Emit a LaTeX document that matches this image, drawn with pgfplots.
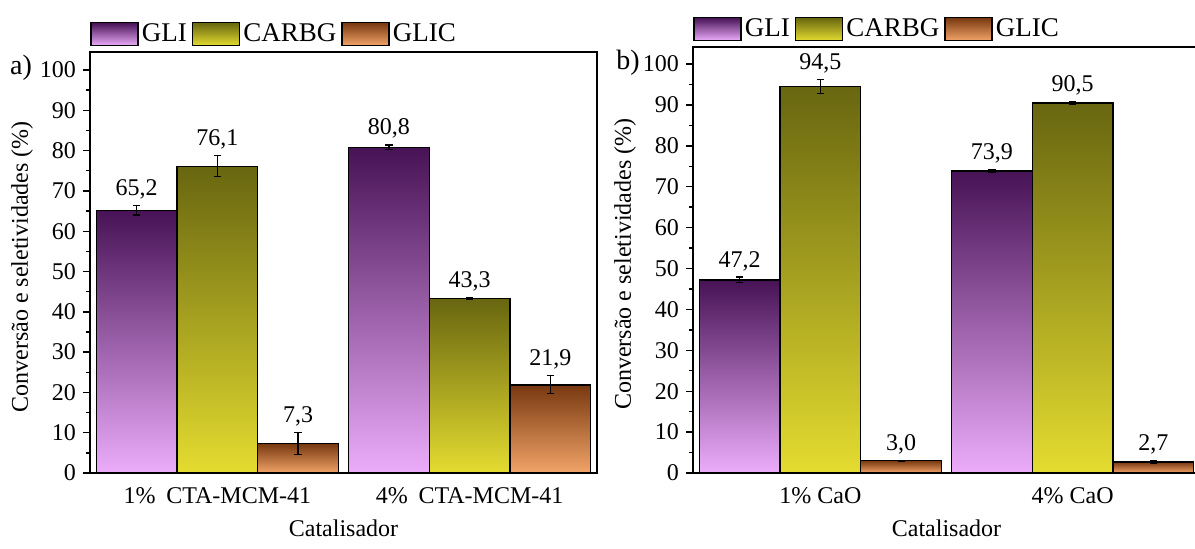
\documentclass[border=0pt]{standalone}
\usepackage{fontspec}
\setmainfont{Liberation Serif}
\usepackage{pgfplots}
\pgfplotsset{compat=1.18}
\usepackage{pgfplotstable}

\definecolor{gliT}{HTML}{471256}
\definecolor{gliB}{HTML}{ECACFA}
\definecolor{carT}{HTML}{686610}
\definecolor{carB}{HTML}{E4DC30}
\definecolor{glcT}{HTML}{783810}
\definecolor{glcB}{HTML}{F2A468}

\newcommand\fs{\fontsize{12pt}{14pt}\selectfont}
\newcommand\fl{\fontsize{13.5pt}{15pt}\selectfont}
\newcommand\fa{\fontsize{12pt}{14pt}\selectfont}

% x = bar position (group +/- offset), y = value, e = error, lab = label
\pgfplotstableread{
x y e lab
-0.32 65.2 1.2 65,2
0.68 80.8 0.6 80,8
}\aGLI
\pgfplotstableread{
x y e lab
0 76.1 2.6 76,1
1 43.3 0.3 43,3
}\aCAR
\pgfplotstableread{
x y e lab
0.32 7.3 2.8 7,3
1.32 21.9 2.2 21,9
}\aGLC
\pgfplotstableread{
x y e lab
-0.32 47.2 0.7 47,2
0.68 73.9 0.3 73,9
}\bGLI
\pgfplotstableread{
x y e lab
0 94.5 1.7 94,5
1 90.5 0.4 90,5
}\bCAR
\pgfplotstableread{
x y e lab
0.32 3.0 0.1 3,0
1.32 2.7 0.3 2,7
}\bGLC

\pgfplotsset{
  panel/.style={
    scale only axis, width=253.5pt, anchor=south west,
    xmin=-0.505, xmax=1.505, ymin=0,
    xtick={0,1}, xtick pos=bottom, xtick style={draw=none},
    ytick={0,10,...,100}, minor y tick num=1, ytick pos=left,
    tick align=outside,
    major tick length=3.5pt, minor tick length=2pt,
    tick style={black, line width=0.7pt},
    axis line style={line width=0.8pt},
    /pgf/number format/assume math mode=true,
    ticklabel style={font=\fs},
    ylabel={Conversão e seletividades (\%)},
    xlabel={Catalisador},
    legend style={at={(0,1)}, anchor=south west, yshift=2pt,
      draw=none, fill=none, legend columns=-1, inner sep=0pt,
      nodes={inner sep=1.5pt, font=\fl},
      /tikz/every even column/.append style={column sep=1pt}},
    legend image code/.code={\draw[#1, line width=0.75pt] (0pt,-5.75pt) rectangle (23.5pt,5.75pt);},
  },
  barA/.style={ybar, bar width=0.32, bar shift=0pt, draw=black, line width=0.75pt,
    error bars/y dir=both, error bars/y explicit,
    error bars/error bar style={black, line width=0.6pt},
    error bars/error mark options={black, rotate=90, mark size=1.8pt, line width=0.6pt}},
  lbl/.style={draw=none, mark=none, forget plot, nodes near coords,
    point meta=explicit symbolic,
    every node near coord/.style={anchor=south, inner sep=0pt, yshift=3pt, font=\fs, black}},
  gli/.style={top color=gliT, bottom color=gliB},
  car/.style={top color=carT, bottom color=carB},
  glc/.style={top color=glcT, bottom color=glcB},
}

\begin{document}
\begin{tikzpicture}
\useasboundingbox (0,0) rectangle (597.5pt,274pt);

\begin{axis}[panel, at={(45pt,37.5pt)}, height=210.5pt, ymax=104.47,
  xticklabels={1\%\hspace{0.45em}CTA-MCM-41, 4\%\hspace{0.45em}CTA-MCM-41},
  every axis y label/.style={at={(axis description cs:-0.134,0.49)}, rotate=90, anchor=center, font=\fa},
  every axis x label/.style={at={(axis description cs:0.5,-0.1306)}, anchor=center, font=\fa}]
\addplot[barA, gli, skip coords between index={1}{2}] table[x=x,y=y,y error=e]{\aGLI};
\addlegendentry{GLI}
\addplot[barA, car, skip coords between index={1}{2}] table[x=x,y=y,y error=e]{\aCAR};
\addlegendentry{CARBG}
\addplot[barA, glc, skip coords between index={1}{2}] table[x=x,y=y,y error=e]{\aGLC};
\addlegendentry{GLIC}
\addplot[barA, gli, forget plot, skip coords between index={0}{1}] table[x=x,y=y,y error=e]{\aGLI};
\addplot[barA, car, forget plot, skip coords between index={0}{1}] table[x=x,y=y,y error=e]{\aCAR};
\addplot[barA, glc, forget plot, skip coords between index={0}{1}] table[x=x,y=y,y error=e]{\aGLC};
\addplot[lbl] table[x=x, y expr=\thisrow{y}+\thisrow{e}, meta=lab]{\aGLI};
\addplot[lbl] table[x=x, y expr=\thisrow{y}+\thisrow{e}, meta=lab]{\aCAR};
\addplot[lbl] table[x=x, y expr=\thisrow{y}+\thisrow{e}, meta=lab]{\aGLC};
\end{axis}

\begin{axis}[panel, at={(346.5pt,37.5pt)}, height=213pt, ymax=104.16,
  xticklabels={1\% CaO, 4\% CaO},
  every axis y label/.style={at={(axis description cs:-0.134,0.49)}, rotate=90, anchor=center, font=\fa},
  every axis x label/.style={at={(axis description cs:0.5,-0.129)}, anchor=center, font=\fa}]
\addplot[barA, gli, skip coords between index={1}{2}] table[x=x,y=y,y error=e]{\bGLI};
\addlegendentry{GLI}
\addplot[barA, car, skip coords between index={1}{2}] table[x=x,y=y,y error=e]{\bCAR};
\addlegendentry{CARBG}
\addplot[barA, glc, skip coords between index={1}{2}] table[x=x,y=y,y error=e]{\bGLC};
\addlegendentry{GLIC}
\addplot[barA, gli, forget plot, skip coords between index={0}{1}] table[x=x,y=y,y error=e]{\bGLI};
\addplot[barA, car, forget plot, skip coords between index={0}{1}] table[x=x,y=y,y error=e]{\bCAR};
\addplot[barA, glc, forget plot, skip coords between index={0}{1}] table[x=x,y=y,y error=e]{\bGLC};
\addplot[lbl] table[x=x, y expr=\thisrow{y}+\thisrow{e}, meta=lab]{\bGLI};
\addplot[lbl] table[x=x, y expr=\thisrow{y}+\thisrow{e}, meta=lab]{\bCAR};
\addplot[lbl] table[x=x, y expr=\thisrow{y}+\thisrow{e}, meta=lab]{\bGLC};
\end{axis}

\node[font=\fontsize{14pt}{16pt}\selectfont, anchor=center] at (10.5pt,240pt) {a)};
\node[font=\fontsize{14pt}{16pt}\selectfont, anchor=center] at (314pt,242.5pt) {b)};
\end{tikzpicture}
\end{document}
